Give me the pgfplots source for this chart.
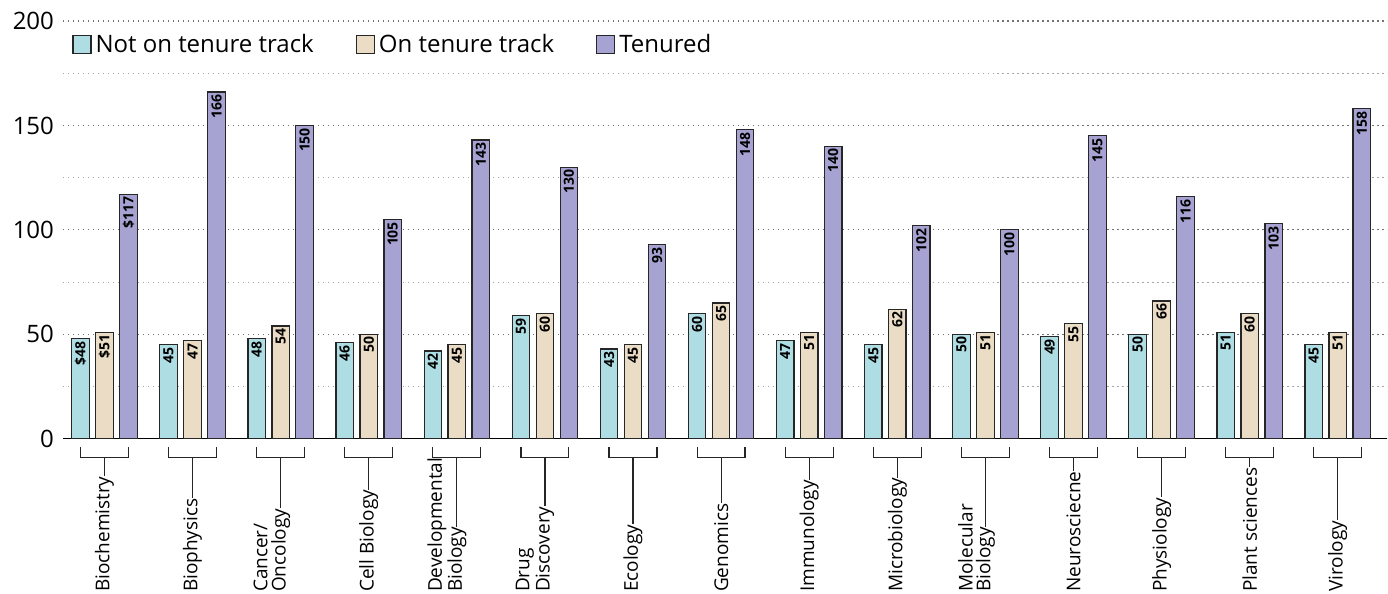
\documentclass[border=0pt]{standalone}
\usepackage{fontspec}
\setmainfont{Open Sans}
\usepackage{pgfplots}
\pgfplotsset{compat=1.18}

\definecolor{nott}{HTML}{AEDDE3}
\definecolor{ontt}{HTML}{EBDCC5}
\definecolor{tenu}{HTML}{A6A2D1}

\pgfplotsset{
  mybar/.style={draw=black!85, line width=0.6pt, fill=#1,
    legend image code/.code={\draw[fill=#1,draw=black!85,line width=0.6pt] (0pt,-4.5pt) rectangle (9pt,4.5pt);}},
}
\tikzset{lab/.style={rotate=90, anchor=west, inner sep=0pt, font=\fontsize{9.5}{10}\selectfont}}

\begin{document}
\begin{tikzpicture}
\path (-31.5pt,-77.5pt) rectangle (662.5pt,219.5pt);
\begin{axis}[
  at={(0,0)}, anchor=south west,
  scale only axis, width=662.5pt, height=209pt,
  ybar=3.25pt, bar width=8.75pt,
  xmin=-0.471, xmax=14.562, ymin=0, ymax=200,
  axis x line=bottom, axis y line=left,
  y axis line style={draw=none},
  x axis line style={-, line width=0.7pt, black},
  xtick=\empty,
  ytick={0,50,...,200}, minor ytick={25,75,125,175},
  major tick length=0pt, minor tick length=0pt,
  ymajorgrids, yminorgrids,
  major grid style={black!55, line width=0.6pt, dash pattern=on 0.7pt off 1.8pt},
  minor grid style={black!35, line width=0.5pt, dash pattern=on 0.7pt off 1.8pt},
  ticklabel style={font=\fontsize{12}{12}\selectfont},
  /pgf/number format/assume math mode=true,
  yticklabel style={xshift=-1pt},
  clip=false,
  point meta=explicit symbolic,
  nodes near coords={\rotatebox{90}{\pgfplotspointmeta}},
  nodes near coords style={anchor=north, inner sep=1pt,
    font=\bfseries\fontsize{7}{7}\selectfont, text=black},
  legend style={draw=none, fill=none, at={(axis description cs:0.0068,0.943)}, anchor=west,
    inner sep=0pt, font=\fontsize{12}{14}\selectfont,
    /tikz/every even column/.append style={column sep=19pt}},
  legend columns=-1,
]
\addplot[mybar=nott] coordinates {
  (0,48) [\$48] (1,45) [45] (2,48) [48] (3,46) [46] (4,42) [42]
  (5,59) [59] (6,43) [43] (7,60) [60] (8,47) [47] (9,45) [45]
  (10,50) [50] (11,49) [49] (12,50) [50] (13,51) [51] (14,45) [45]
};
\addplot[mybar=ontt] coordinates {
  (0,51) [\$51] (1,47) [47] (2,54) [54] (3,50) [50] (4,45) [45]
  (5,60) [60] (6,45) [45] (7,65) [65] (8,51) [51] (9,62) [62]
  (10,51) [51] (11,55) [55] (12,66) [66] (13,60) [60] (14,51) [51]
};
\addplot[mybar=tenu] coordinates {
  (0,117) [\$117] (1,166) [166] (2,150) [150] (3,105) [105] (4,143) [143]
  (5,130) [130] (6,93) [93] (7,148) [148] (8,140) [140] (9,102) [102]
  (10,100) [100] (11,145) [145] (12,116) [116] (13,103) [103] (14,158) [158]
};
\legend{Not on tenure track, On tenure track, Tenured}

% category brackets and labels below the axis
\pgfplotsinvokeforeach{0,...,14}{
  \draw[line width=0.6pt, black!85] (axis cs:#1-0.272,-3.83) -- (axis cs:#1-0.272,-9.09)
    -- (axis cs:#1+0.272,-9.09) -- (axis cs:#1+0.272,-3.83);
}
\node[lab] (c0) at (axis cs:0,-73.5) {Biochemistry};
\node[lab] (c1) at (axis cs:1,-73.5) {Biophysics};
\node[lab] at (axis cs:2-0.227,-73.5) {Cancer/};
\node[lab] (c2) at (axis cs:2,-73.5) {Oncology};
\node[lab] (c3) at (axis cs:3,-73.5) {Cell Biology};
\node[lab] at (axis cs:4-0.227,-73.5) {Developmental};
\node[lab] (c4) at (axis cs:4,-73.5) {Biology};
\node[lab] at (axis cs:5-0.227,-73.5) {Drug};
\node[lab] (c5) at (axis cs:5,-73.5) {Discovery};
\node[lab] (c6) at (axis cs:6,-73.5) {Ecology};
\node[lab] (c7) at (axis cs:7,-73.5) {Genomics};
\node[lab] (c8) at (axis cs:8,-73.5) {Immunology};
\node[lab] (c9) at (axis cs:9,-73.5) {Microbiology};
\node[lab] at (axis cs:10-0.227,-73.5) {Molecular};
\node[lab] (c10) at (axis cs:10,-73.5) {Biology};
\node[lab] (c11) at (axis cs:11,-73.5) {Neurosciecne};
\node[lab] (c12) at (axis cs:12,-73.5) {Physiology};
\node[lab] (c13) at (axis cs:13,-73.5) {Plant sciences};
\node[lab] (c14) at (axis cs:14,-73.5) {Virology};
\pgfplotsinvokeforeach{0,...,14}{
  \draw[line width=0.6pt, black!85] (axis cs:#1,-9.09) -- (c#1.east);
}
\end{axis}
\end{tikzpicture}
\end{document}
